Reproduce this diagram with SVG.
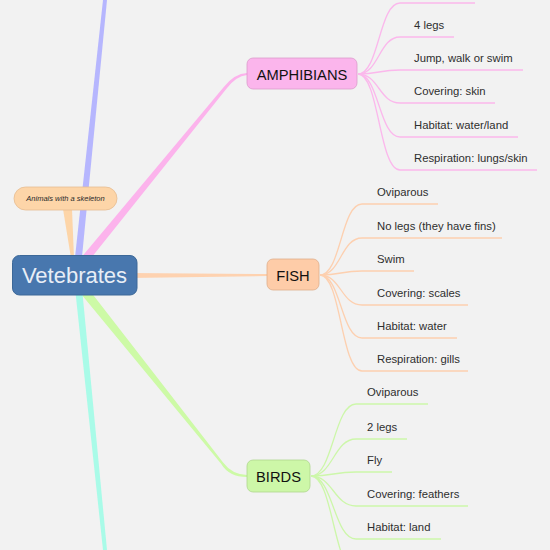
<svg xmlns="http://www.w3.org/2000/svg" width="550" height="550" viewBox="0 0 550 550">
<style>
text{font-family:"Liberation Sans",Arial,Helvetica,sans-serif}
.leaf{fill:none;stroke-width:1.3}
.am{stroke:#fbb8ec}
.fi{stroke:#fdd0b0}
.bi{stroke:#cdf7aa}
.lt{font-size:11.3px;fill:#2e2e2e}
.nt{font-size:14.7px;fill:#111;text-anchor:middle}
</style>
<rect x="0" y="0" width="550" height="550" fill="#f2f2f2"/>
<g id="connectors">
<polygon points="103,0 107,0 81.5,262 74.5,262" fill="#b6b6fe"/>
<polygon points="75,288 82,288 107,550 103,550" fill="#a9fbe8"/>
<polygon points="63,209 72,209 74,258 71,258" fill="#fdd5a8"/>
<path d="M82.9,255.5 L223.8,87.05 Q234.5,73.5 247,73 L247,75 Q236,76 226.2,88.95 L89.1,260.5 Z" fill="#fcb3ec"/>
<path d="M89.5,290.2 L222.9,462.25 Q232,474.5 247,475 L247,477 Q229,477 221.1,463.75 L82.5,295.8 Z" fill="#cdfaa6"/>
<polygon points="130,273 267,274 267,276 130,278" fill="#fed2b0"/>
<g class="leaf am">
<path d="M358,74 C379,74 379,3 400,3 H475"/>
<path d="M358,74 C379,74 379,37 400,37 H454"/>
<path d="M358,74 C379,74 379,70 400,70 H523"/>
<path d="M358,74 C379,74 379,103 400,103 H495"/>
<path d="M358,74 C379,74 379,137 400,137 H518"/>
<path d="M358,74 C379,74 379,170 400,170 H537"/>
</g>
<g class="leaf fi">
<path d="M320,275 C341,275 341,204 362,204 H438"/>
<path d="M320,275 C341,275 341,238 362,238 H502"/>
<path d="M320,275 C341,275 341,271 362,271 H414"/>
<path d="M320,275 C341,275 341,305 362,305 H468"/>
<path d="M320,275 C341,275 341,338 362,338 H457"/>
<path d="M320,275 C341,275 341,371 362,371 H468"/>
</g>
<g class="leaf bi">
<path d="M311,476 C333,476 334,404 356,404 H428"/>
<path d="M311,476 C333,476 334,439 356,439 H407"/>
<path d="M311,476 C333,476 334,472 356,472 H392"/>
<path d="M311,476 C333,476 334,506 356,506 H468"/>
<path d="M311,476 C333,476 334,539 356,539 H441"/>
<path d="M311,476 C333,476 334,572 356,572 H430"/>
</g>
</g>
<g id="note">
<rect x="14" y="187" width="103" height="23" rx="11.5" fill="#fdd5a8" stroke="#e6bc92" stroke-width="0.8"/>
<text x="65.5" y="201" font-size="7.5" font-style="italic" fill="#2a2a2a" text-anchor="middle">Animals with a skeleton</text>
</g>
<g id="vetebrates">
<rect x="12.5" y="255.5" width="124.5" height="39.5" rx="7" fill="#4877ae" stroke="#3c6898" stroke-width="1"/>
<text x="74.5" y="283" font-size="22" fill="#e8eef6" text-anchor="middle">Vetebrates</text>
</g>
<g id="amphibians">
<rect x="247" y="58" width="110" height="31" rx="6" fill="#fbb5ec" stroke="#dc9ccc" stroke-width="0.8"/>
<text class="nt" x="302" y="79.5">AMPHIBIANS</text>
<text class="lt" x="414" y="28.5">4 legs</text>
<text class="lt" x="414" y="61.5">Jump, walk or swim</text>
<text class="lt" x="414" y="94.5">Covering: skin</text>
<text class="lt" x="414" y="128.5">Habitat: water/land</text>
<text class="lt" x="414" y="161.5">Respiration: lungs/skin</text>
</g>
<g id="fish">
<rect x="267" y="259" width="52" height="31" rx="6" fill="#fecca8" stroke="#e0af8c" stroke-width="0.8"/>
<text class="nt" x="293" y="280.5">FISH</text>
<text class="lt" x="377" y="195.5">Oviparous</text>
<text class="lt" x="377" y="229.5">No legs (they have fins)</text>
<text class="lt" x="377" y="262.5">Swim</text>
<text class="lt" x="377" y="296.5">Covering: scales</text>
<text class="lt" x="377" y="329.5">Habitat: water</text>
<text class="lt" x="377" y="362.5">Respiration: gills</text>
</g>
<g id="birds">
<rect x="247" y="460" width="63" height="32" rx="6" fill="#cdf7a8" stroke="#aed78e" stroke-width="0.8"/>
<text class="nt" x="278.5" y="481.5">BIRDS</text>
<text class="lt" x="367" y="395.5">Oviparous</text>
<text class="lt" x="367" y="430.5">2 legs</text>
<text class="lt" x="367" y="463.5">Fly</text>
<text class="lt" x="367" y="497.5">Covering: feathers</text>
<text class="lt" x="367" y="530.5">Habitat: land</text>
</g>
</svg>
